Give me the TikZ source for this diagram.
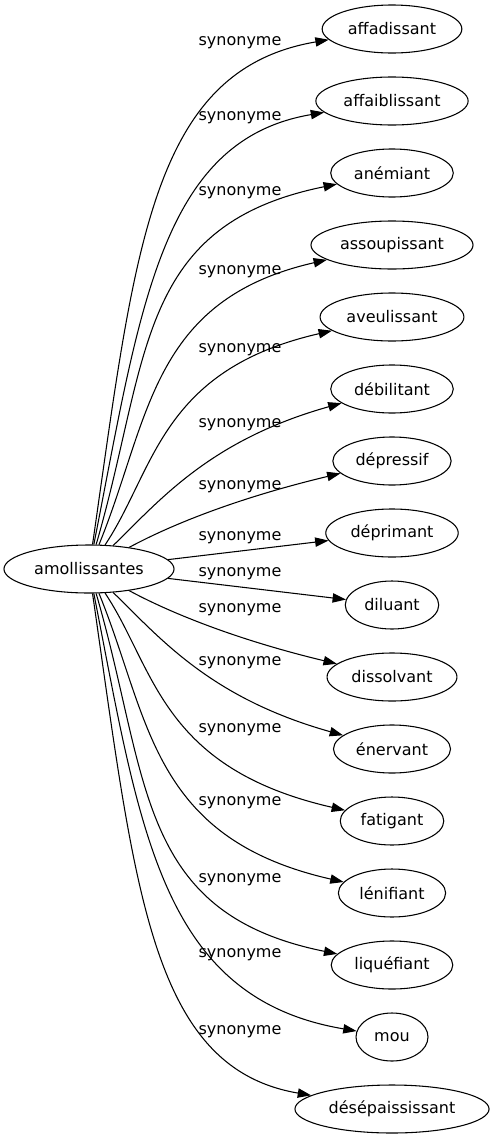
\documentclass[tikz,border=0pt]{standalone}
\usepackage{fontspec}
\setmainfont{DejaVu Sans}
\usetikzlibrary{shapes.geometric}
\usetikzlibrary{arrows.meta}

\begin{document}
\begin{tikzpicture}[x=0.75pt,y=-0.75pt,
        mot/.style={draw,ellipse,line width=0.8pt,minimum width=54pt,minimum height=36pt,inner xsep=4pt,font=\fontsize{12}{14}\selectfont},
        syn/.style={line width=0.8pt,-{Triangle[length=10pt,width=7pt]}},
        etiq/.style={font=\fontsize{12}{14}\selectfont}]
            \useasboundingbox (0,0) rectangle (492,1139);
            \node[mot] (amollissantes) at (89,569) {amollissantes};
            \node[mot] (affadissant) at (392,29) {affadissant};
            \node[mot] (affaiblissant) at (392,101) {affaiblissant};
            \node[mot] (anemiant) at (392,173) {anémiant};
            \node[mot] (assoupissant) at (392,245) {assoupissant};
            \node[mot] (aveulissant) at (392,317) {aveulissant};
            \node[mot] (debilitant) at (392,389) {débilitant};
            \node[mot] (depressif) at (392,461) {dépressif};
            \node[mot] (deprimant) at (392,533) {déprimant};
            \node[mot] (diluant) at (392,605) {diluant};
            \node[mot] (dissolvant) at (392,677) {dissolvant};
            \node[mot] (enervant) at (392,749) {énervant};
            \node[mot] (fatigant) at (392,821) {fatigant};
            \node[mot] (lenifiant) at (392,893) {lénifiant};
            \node[mot] (liquefiant) at (392,965) {liquéfiant};
            \node[mot] (mou) at (392,1037) {mou};
            \node[mot] (desepaississant) at (392,1109) {désépaississant};
            \draw[syn] (amollissantes) .. controls (135,250) and (150,70) .. (affadissant);
            \draw[syn] (amollissantes) .. controls (140,310) and (160,140) .. (affaiblissant);
            \draw[syn] (amollissantes) .. controls (150,360) and (135,225) .. (anemiant);
            \draw[syn] (amollissantes) .. controls (150,420) and (150,300) .. (assoupissant);
            \draw[syn] (amollissantes) .. controls (155,470) and (160,370) .. (aveulissant);
            \draw[syn] (amollissantes) .. controls (160,500) and (210,440) .. (debilitant);
            \draw[syn] (amollissantes) .. controls (180,520) and (250,495) .. (depressif);
            \draw[syn] (amollissantes) -- (deprimant);
            \draw[syn] (amollissantes) -- (diluant);
            \draw[syn] (amollissantes) .. controls (180,618) and (250,643) .. (dissolvant);
            \draw[syn] (amollissantes) .. controls (160,638) and (210,698) .. (enervant);
            \draw[syn] (amollissantes) .. controls (155,668) and (160,768) .. (fatigant);
            \draw[syn] (amollissantes) .. controls (150,718) and (150,838) .. (lenifiant);
            \draw[syn] (amollissantes) .. controls (150,778) and (135,913) .. (liquefiant);
            \draw[syn] (amollissantes) .. controls (140,828) and (160,998) .. (mou);
            \draw[syn] (amollissantes) .. controls (135,888) and (150,1068) .. (desepaississant);
            \node[etiq] (s1) at (240,43) {synonyme};
            \node[etiq] (s2) at (240,118) {synonyme};
            \node[etiq] (s3) at (240,193) {synonyme};
            \node[etiq] (s4) at (240,272) {synonyme};
            \node[etiq] (s5) at (240,350) {synonyme};
            \node[etiq] (s6) at (240,425) {synonyme};
            \node[etiq] (s7) at (240,487) {synonyme};
            \node[etiq] (s8) at (240,538) {synonyme};
            \node[etiq] (s9) at (240,574) {synonyme};
            \node[etiq] (s10) at (240,610) {synonyme};
            \node[etiq] (s11) at (240,663) {synonyme};
            \node[etiq] (s12) at (240,730) {synonyme};
            \node[etiq] (s13) at (240,803) {synonyme};
            \node[etiq] (s14) at (240,880) {synonyme};
            \node[etiq] (s15) at (240,955) {synonyme};
            \node[etiq] (s16) at (240,1032) {synonyme};
        \end{tikzpicture}
\end{document}
